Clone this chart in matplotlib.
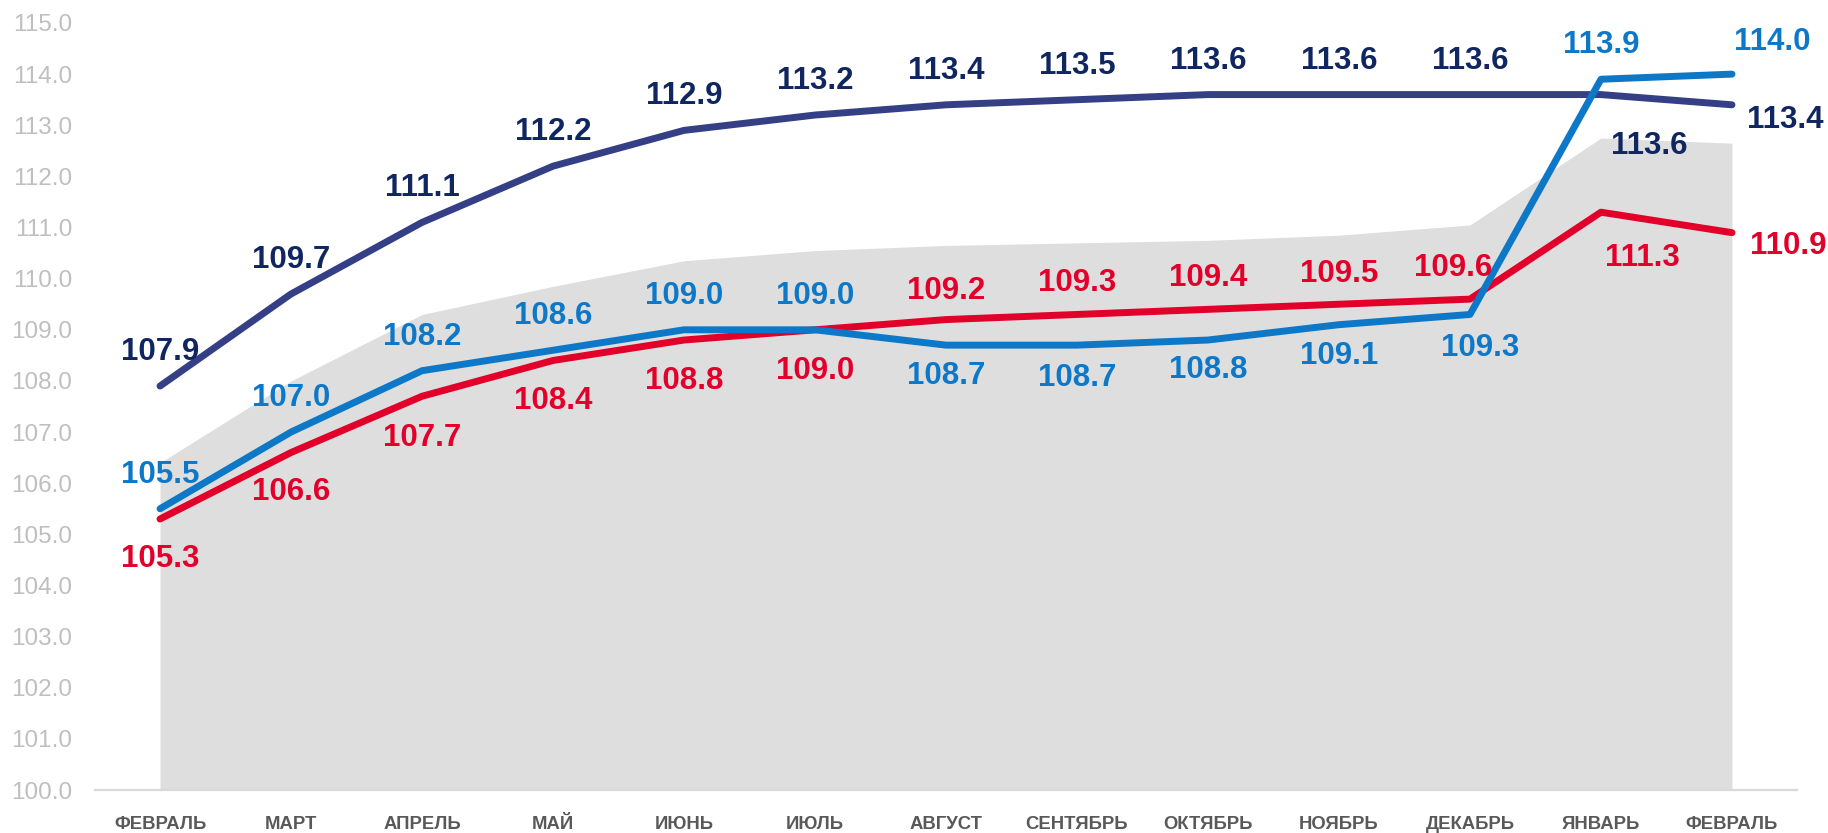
# Индексы цен: три линии и серая область
import matplotlib
matplotlib.use("Agg")
import matplotlib.pyplot as plt

plt.rcParams['font.family'] = ['Liberation Sans', 'DejaVu Sans']

months = ['ФЕВРАЛЬ', 'МАРТ', 'АПРЕЛЬ', 'МАЙ', 'ИЮНЬ', 'ИЮЛЬ', 'АВГУСТ',
          'СЕНТЯБРЬ', 'ОКТЯБРЬ', 'НОЯБРЬ', 'ДЕКАБРЬ', 'ЯНВАРЬ', 'ФЕВРАЛЬ']

navy_vals = [107.9, 109.7, 111.1, 112.2, 112.9, 113.2, 113.4, 113.5, 113.6, 113.6, 113.6, 113.6, 113.4]
blue_vals = [105.5, 107.0, 108.2, 108.6, 109.0, 109.0, 108.7, 108.7, 108.8, 109.1, 109.3, 113.9, 114.0]
red_vals = [105.3, 106.6, 107.7, 108.4, 108.8, 109.0, 109.2, 109.3, 109.4, 109.5, 109.6, 111.3, 110.9]
gray_vals = [106.4, 108.0, 109.3, 109.85, 110.35, 110.55, 110.65, 110.7, 110.75, 110.85, 111.05, 112.75, 112.65]

yticks = [100 + i for i in range(16)]

NAVY_LINE = '#343F86'
NAVY_TEXT = '#102660'
BLUE = '#0E78C8'
RED = '#E2002B'
GRAY = '#DEDEDE'

# label offsets in image pixels (dx, dy of text centre, y down), ha
A = (0, -37, 'center')
navy_pos = [A] * 11 + [(48, 48, 'center'), (15, 12, 'left')]
blue_pos = [A, A, A, A, A, A, (0, 28, 'center'), (0, 30, 'center'), (0, 27, 'center'),
            (0, 28, 'center'), (10, 31, 'center'), A, (40, -35, 'center')]
red_pos = [(0, 37, 'center'), (0, 36, 'center'), (0, 39, 'center'), (0, 38, 'center'),
           (0, 38, 'center'), (0, 38, 'center'), (0, -32, 'center'), (0, -34, 'center'),
           (0, -34, 'center'), (0, -33, 'center'), (-17, -34, 'center'),
           (41, 43, 'center'), (18, 10, 'left')]

fig = plt.figure(figsize=(18.28, 8.33), dpi=100)
ax = fig.add_axes([0.0517, 0.0516, 0.9316, 0.9208])

x = list(range(len(months)))
ax.fill_between(x, 100, gray_vals, color=GRAY, lw=0, zorder=1)
ax.plot(x, navy_vals, color=NAVY_LINE, lw=5, solid_capstyle='round', zorder=3)
ax.plot(x, red_vals, color=RED, lw=5, solid_capstyle='round', zorder=3)
ax.plot(x, blue_vals, color=BLUE, lw=5, solid_capstyle='round', zorder=4)


def put_labels(vals, pos, color):
    for i, v in enumerate(vals):
        dx, dy, ha = pos[i]
        ax.annotate(f'{v:.1f}', (i, v), xytext=(dx, -(dy + 11)),
                    textcoords='offset pixels', ha=ha, va='baseline',
                    fontsize=22.5, fontweight='bold', color=color, zorder=5)


put_labels(navy_vals, navy_pos, NAVY_TEXT)
put_labels(blue_vals, blue_pos, BLUE)
put_labels(red_vals, red_pos, RED)

ax.set_xlim(-0.5, 12.5)
ax.set_ylim(100, 115)
ax.set_yticks(yticks)
ax.set_yticklabels([f'{t:.1f}' for t in yticks])
ax.set_xticks(x)
ax.set_xticklabels(months)

for s in ['top', 'right', 'left']:
    ax.spines[s].set_visible(False)
ax.spines['bottom'].set_color('#D9D9D9')
ax.spines['bottom'].set_linewidth(1.6)
ax.spines['bottom'].set_zorder(2)

ax.tick_params(axis='y', length=0, pad=16, labelsize=17.5, labelcolor='#BFBFBF')
ax.tick_params(axis='x', length=0, pad=19, labelsize=13.3, labelcolor='#595959')
for lbl in ax.get_xticklabels():
    lbl.set_fontweight('bold')

fig.savefig('out.png', dpi=100)
